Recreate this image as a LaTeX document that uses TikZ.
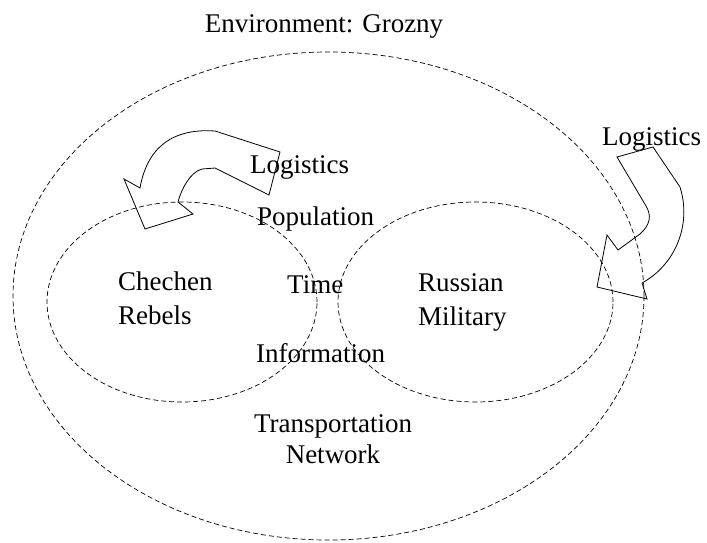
\documentclass[tikz,border=0pt]{standalone}
\usepackage{fontspec}
\setmainfont{Liberation Serif}
\begin{document}
\begin{tikzpicture}[x=1pt,y=-1pt,
  lbl/.style={font=\fontsize{27}{34}\selectfont, inner sep=0pt},
  zone/.style={draw, dash pattern=on 5pt off 3pt, line width=0.7pt},
  blockarrow/.style={draw, line width=0.8pt, line join=miter}]
\useasboundingbox[fill=white] (0,0) rectangle (707,542);
% zones
\path[zone] (328.5,296) ellipse [x radius=315.5pt, y radius=244pt];
\path[zone] (182,302) ellipse [x radius=135pt, y radius=100pt];
\path[zone] (475.5,302) ellipse [x radius=137.5pt, y radius=100pt];
% logistics arrows
\path[blockarrow] (280,152) -- (269,195) -- (215,168) -- (202,169)
  .. controls (190,172) and (181,190) .. (178,202) -- (193,214) -- (145,229)
  -- (124,179) -- (140,188) .. controls (147,148) and (172,128) .. (215,131) -- cycle;
\path[blockarrow] (617,157) -- (646,206) .. controls (652,216) and (650,225) .. (640,234)
  -- (618,250) -- (607,235) -- (597,287) -- (647,299) -- (642,283)
  .. controls (675,265) and (692,225) .. (680,187) -- (653,147) -- cycle;
% labels
\node[lbl, anchor=base] (env) at (324,32) {Environment: Grozny};
\node[lbl, anchor=base west] (logL) at (250,173) {Logistics};
\node[lbl, anchor=base west] (logR) at (602,145) {Logistics};
\node[lbl, anchor=base west] (pop) at (257,225) {Population};
\node[lbl, anchor=base west] (time) at (287,293) {Time};
\node[lbl, anchor=base west] (info) at (256,362) {Information};
\node[lbl, anchor=north, align=center] (trans) at (333,414) {Transportation\\[-3pt]Network};
\node[lbl, anchor=north west, align=left] (rebels) at (118,271.6) {Chechen\\Rebels};
\node[lbl, anchor=north west, align=left] (russia) at (418,273.6) {Russian\\Military};
\end{tikzpicture}
\end{document}
